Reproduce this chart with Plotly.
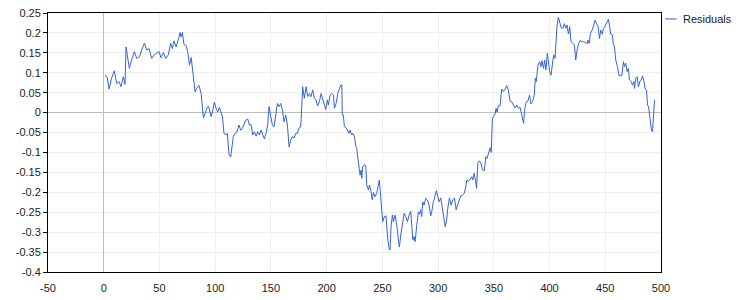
import plotly.graph_objects as go

# Sample index of the residual series
x_vals = [1, 3, 4.8, 7, 9.5, 11.6, 13.7, 15.5, 17.6, 19.1, 20, 21.5, 23, 25, 27.5, 29.6, 32, 34, 36.5, 38.5,
          40.6, 43, 45.4, 47.5, 49.6, 51.4, 53.5, 55.6, 58, 60, 61.6, 63, 65, 67.6, 68.5, 69.4, 70.6, 72, 74,
          75.3, 77, 78.5, 80.5, 82, 83.4, 85.5, 87.4, 89.4, 91, 92.5, 94.2,
          96.3, 97.5, 99.3, 100.8, 102.3, 103.8, 105.3, 106.5, 107.9, 109.7, 110.9, 112.4, 113.9, 114.8, 116.3,
          117.8, 119.3, 121.4, 122.9, 124.4, 125.9, 127.4, 129.2, 130.7, 132.2, 133.7, 135.2, 136.7, 138.2,
          139.7, 141.2, 142.7, 144.1, 145.6, 147.1, 148.3, 149.8, 151.3, 152.8, 154.3, 155.8, 157.3, 158.8,
          160.3, 161.8, 163.3, 164.8, 166.3, 167.8, 169.3, 170.8, 172.3, 173.8, 175.3, 176.8, 177.6, 178.5,
          180, 181.5, 183, 184.5, 186, 187.5, 189,
          190.5, 192, 193.5, 195, 196.5, 198, 199.2, 200.7, 201.6, 203.1, 204.6, 206.1, 207, 208.5, 210, 211.5,
          212.7, 213.6, 214.1, 215, 215.9, 217.4, 218.9, 220.1, 221, 222.5, 223.4, 224.9, 226.1, 227, 227.9,
          229.1, 230, 230.9, 231.5, 232.4, 233.6, 235.1, 236, 237.5, 238.4, 239.6, 241, 241.9, 243.4, 244.9,
          246.4, 247.3, 248.5, 249.7, 250.3, 251.8, 253.3, 254.5, 255.7, 256.9, 257.8, 259, 259.9, 261.4,
          262.9, 264.4, 265.3, 266.5, 268, 269.5, 271, 272.5, 274, 275.5, 276.4, 277.3, 278.5, 279.4, 280.9,
          282.3, 283.2,
          284.4, 285.3, 286.2, 287.4, 288.9, 290.4, 291.9, 293.4, 294.3, 295.8, 297.3, 298.5, 299.7, 300.9,
          302.4, 303.6, 304.8, 306.3, 307.5, 308.7, 310.2, 311.7, 313.2, 314.7, 316.2, 317.4, 318.9, 320.4,
          321.9, 323.4, 324.9, 325.8, 327.3, 328.8, 330.3, 331.2, 332.4, 333.3, 334.5, 335.7, 336.9, 338.4,
          339.9, 341.4, 342.9, 343.8, 344.7, 345.9, 346.8, 347.7, 348.7, 349.6, 351.1, 352, 352.9, 354.1,
          355.6, 357.1, 358.6, 360.1, 361.6, 363.1, 364.6, 366.1, 367.6, 369.1, 370.6, 372.1, 373.6, 375.2,
          376.7, 377.6,
          379.1, 380.6, 382.1, 383.3, 384.8, 386.3, 387.2, 388.1, 389.6, 391.1, 392.3, 393.2, 394.7, 395.6,
          396.8, 398, 399.2, 400.1, 401.3, 402.5, 403.7, 404.9, 405.8, 406.7, 407.9, 409.1, 410.6, 412.1,
          413.3, 414.5, 415.7, 416.9, 418.1, 419.3, 420.8, 422.3, 423.5, 424.7, 426.2, 427.7, 429.2, 430.7,
          432.2, 433.7, 434.6, 435.5, 436.7, 438.2, 439.7, 440.9, 442.1, 443.6, 444.8, 445.9,
          447.4, 448.3, 449.8, 451.3, 452.8, 453.7, 454.9, 456.4, 457.3, 458.2, 459.4, 460.9, 462.4, 463.6,
          464.8, 466.3, 467.2, 468.4, 469.6, 470.8, 471.7, 473.2, 474.4, 475.6, 476.2, 477.4, 478.6, 479.8,
          481, 482.2, 483.4, 484.6, 485.8, 487, 487.9, 488.8, 489.7, 490.6, 491.5, 492.4, 493.3, 494.2]

residuals = [0.094, 0.090, 0.059, 0.086, 0.105, 0.073, 0.078, 0.065, 0.090, 0.071, 0.165, 0.136, 0.111, 0.132,
             0.153, 0.136, 0.140, 0.157, 0.174, 0.157, 0.161, 0.136, 0.145, 0.149, 0.153, 0.138, 0.151, 0.136,
             0.145, 0.174, 0.161, 0.180, 0.165, 0.190, 0.201, 0.190, 0.201, 0.171, 0.168, 0.153, 0.119, 0.138,
             0.094, 0.052, 0.061, 0.068, 0.048, -0.013, -0.002, 0.011, 0.015,
             -0.010, 0.002, 0.026, 0.011, 0.002, 0.013, 0.002, -0.010, -0.052, -0.056, -0.052, -0.105, -0.111,
             -0.086, -0.060, -0.052, -0.050, -0.031, -0.044, -0.040, -0.027, -0.019, -0.016, -0.031, -0.030,
             -0.056, -0.048, -0.059, -0.048, -0.056, -0.044, -0.056, -0.066, -0.052, -0.031, 0.015, -0.014,
             -0.031, -0.036, 0.002, 0.023, 0.015, 0.023, 0.007, -0.023, -0.006, -0.031, -0.086, -0.069, -0.060,
             -0.064, -0.052, -0.052, -0.038, -0.036, 0.011, 0.065, 0.036, 0.065, 0.040, 0.048, 0.040, 0.057,
             0.036,
             0.032, 0.017, 0.027, 0.048, 0.032, 0.019, 0.008, 0.032, 0.019, 0.044, 0.048, 0.044, 0.011, 0.023,
             0.048, 0.061, 0.069, 0.070, -0.006, -0.006, -0.035, -0.038, -0.044, -0.052, -0.044, -0.056, -0.052,
             -0.060, -0.084, -0.090, -0.111, -0.131, -0.157, -0.144, -0.165, -0.136, -0.131, -0.133, -0.182,
             -0.194, -0.182, -0.194, -0.219, -0.200, -0.211, -0.203, -0.182, -0.169, -0.211, -0.249, -0.274,
             -0.261, -0.259, -0.307, -0.337, -0.345, -0.286, -0.257, -0.274, -0.257, -0.282, -0.320, -0.337,
             -0.307, -0.274, -0.253, -0.261, -0.274, -0.257, -0.247, -0.282, -0.320, -0.311, -0.324, -0.282,
             -0.249, -0.255,
             -0.244, -0.261, -0.224, -0.232, -0.215, -0.219, -0.232, -0.259, -0.249, -0.224, -0.207, -0.196,
             -0.211, -0.224, -0.214, -0.232, -0.257, -0.286, -0.274, -0.240, -0.214, -0.232, -0.219, -0.214,
             -0.244, -0.232, -0.219, -0.209, -0.207, -0.203, -0.186, -0.169, -0.173, -0.165, -0.161, -0.169,
             -0.152, -0.165, -0.190, -0.125, -0.121, -0.127, -0.144, -0.146, -0.111, -0.115, -0.106, -0.094,
             -0.088, -0.100, -0.014, -0.010, -0.004, 0.011, 0.001, 0.017, 0.017, 0.059, 0.053, 0.059, 0.068,
             0.055, 0.029, 0.027, 0.019, 0.012, 0.019, 0.011, 0.013, -0.010, -0.027, 0.007,
             0.027, 0.029, 0.044, 0.022, 0.027, 0.044, 0.086, 0.078, 0.119, 0.128, 0.115, 0.130, 0.111, 0.132,
             0.107, 0.149, 0.119, 0.103, 0.094, 0.119, 0.145, 0.136, 0.178, 0.216, 0.239, 0.228, 0.212, 0.212,
             0.223, 0.212, 0.220, 0.197, 0.216, 0.178, 0.174, 0.170, 0.132, 0.157, 0.174, 0.182, 0.178, 0.178,
             0.176, 0.173, 0.182, 0.174, 0.199, 0.207, 0.220, 0.232, 0.224, 0.216, 0.186, 0.207,
             0.197, 0.211, 0.217, 0.224, 0.234, 0.220, 0.197, 0.195, 0.170, 0.167, 0.132, 0.115, 0.092, 0.094,
             0.092, 0.128, 0.115, 0.124, 0.103, 0.111, 0.082, 0.078, 0.069, 0.078, 0.061, 0.086, 0.090, 0.065,
             0.078, 0.082, 0.092, 0.080, 0.059, 0.057, 0.019, 0.015, -0.010, -0.031, -0.045, -0.048, -0.006,
             0.032]

x_ticks = [-50, 0, 50, 100, 150, 200, 250, 300, 350, 400, 450, 500]
x_tick_labels = ["-50", "0", "50", "100", "150", "200", "250", "300", "350", "400", "450", "500"]
y_ticks = [0.25, 0.2, 0.15, 0.1, 0.05, 0, -0.05, -0.1, -0.15, -0.2, -0.25, -0.3, -0.35, -0.4]
y_tick_labels = ["0.25", "0.2", "0.15", "0.1", "0.05", "0", "-0.05", "-0.1", "-0.15", "-0.2",
                 "-0.25", "-0.3", "-0.35", "-0.4"]
series_name = "Residuals"

LINE_COLOR = "#3563d8"
FONT = "Liberation Sans, Arial, sans-serif"

fig = go.Figure()
fig.add_trace(go.Scatter(x=x_vals, y=residuals, mode="lines", name=series_name,
                         line=dict(color=LINE_COLOR, width=1), showlegend=False))

axis_common = dict(
    showline=True, linecolor="black", linewidth=1, mirror=True,
    showgrid=True, gridcolor="#efefef", gridwidth=1,
    zeroline=True, zerolinecolor="#bdbdbd", zerolinewidth=1,
    tickfont=dict(family=FONT, size=11, color="#222222"),
    automargin=False,
)

fig.update_xaxes(range=[-50, 500], tickmode="array", tickvals=x_ticks, ticktext=x_tick_labels,
                 ticks="", ticklabelstandoff=6, **axis_common)
fig.update_yaxes(range=[-0.4, 0.25], tickmode="array", tickvals=y_ticks, ticktext=y_tick_labels,
                 ticks="outside", ticklen=4, tickcolor="black", tickwidth=1, **axis_common)

# Manual legend entry (short line sample + label), placed right of the plot
fig.add_shape(type="line", xref="paper", yref="paper",
              x0=1.0065, x1=1.0255, y0=0.977, y1=0.977,
              line=dict(color=LINE_COLOR, width=1))
fig.add_annotation(xref="paper", yref="paper", x=1.032, y=0.977, text=series_name,
                   showarrow=False, xanchor="left", yanchor="middle",
                   font=dict(family=FONT, size=11, color="#222222"))

fig.update_layout(
    width=750, height=300,
    margin=dict(l=48, r=89, t=13, b=28, autoexpand=False),
    paper_bgcolor="white", plot_bgcolor="white",
    showlegend=False,
)

fig.write_html("out.html")
